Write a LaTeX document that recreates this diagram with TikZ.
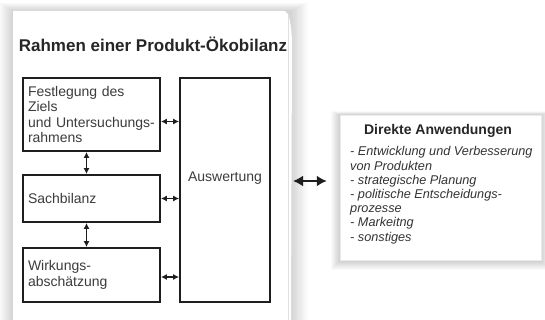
\documentclass[tikz,border=0pt]{standalone}
\usepackage{fontspec}
\setmainfont{Liberation Sans}
\usetikzlibrary{arrows.meta}
\definecolor{boxline}{HTML}{1E1E1E}
\definecolor{boxtext}{HTML}{3C3C3C}
\definecolor{listtext}{HTML}{333333}
\tikzset{
  stepbox/.style={draw=boxline, line width=1.8pt, fill=white, minimum width=137pt,
    text width=127pt, inner xsep=5pt, align=left, text=boxtext,
    font=\fontsize{14}{15.5}\selectfont},
  link/.style={{Latex[length=6pt,width=6pt]}-{Latex[length=6pt,width=6pt]},
    line width=1.5pt, draw=boxline},
  biglink/.style={{Latex[length=10pt,width=11pt]}-{Latex[length=10pt,width=11pt]},
    line width=2.6pt, draw=boxline},
}
\begin{document}
\begin{tikzpicture}[x=1pt,y=-1pt]
  \useasboundingbox[fill=white] (0,0) rectangle (545,320);
  % shadow and page
  \foreach \i in {1,...,14}
    \fill[black, opacity=0.011] (13-\i,11-0.6*\i) rectangle (291+1.2*\i,325);
  \fill[white] (13,11) -- (285,11) .. controls (289,13) and (291,22) .. (292,40)
    -- (291,325) -- (13,325) -- cycle;
  \draw[black!12, line width=0.8pt] (288,16) -- (288,325);
  \node[font=\bfseries\fontsize{17}{20}\selectfont, text=black!85] (title) at (153,44)
    {Rahmen einer Produkt-Ökobilanz};
  % phases
  \node[stepbox, minimum height=73pt] (ziel) at (91.5,114.5)
    {Festlegung des\\Ziels\\und Untersuchungs-\\rahmens};
  \node[stepbox, minimum height=47pt] (sach) at (91.5,198.5) {Sachbilanz};
  \node[stepbox, minimum height=54pt] (wirk) at (91.5,275) {Wirkungs-\\abschätzung};
  \node[draw=boxline, line width=1.8pt, fill=white, minimum width=90pt,
    minimum height=224pt] (ausw) at (225,190) {};
  \node[text=boxtext, font=\fontsize{14}{15.5}\selectfont] (auswtext) at (225,178) {Auswertung};
  \begin{scope}[link]
    \draw ([yshift=-7pt]ziel.east) -- ([yshift=-7pt]ziel.east -| ausw.west);
    \draw (sach.east) -- (sach.east -| ausw.west);
    \draw ([yshift=-2pt]wirk.east) -- ([yshift=-2pt]wirk.east -| ausw.west);
    \draw ([xshift=-5pt]ziel.south) -- ([xshift=-5pt]sach.north);
    \draw ([xshift=-5pt]sach.south) -- ([xshift=-5pt]wirk.north);
  \end{scope}
  % applications
  \foreach \i in {1,...,9}
    \fill[black, opacity=0.018] (340-\i,115-0.4*\i) rectangle (541+\i,261+\i);
  \node[fill=white, draw=black!8, line width=0.5pt, minimum width=201pt,
    minimum height=145pt] (app) at (440.5,187.5) {};
  \node[font=\bfseries\fontsize{14}{16}\selectfont, text=black!85] (apptitle) at (438,131)
    {Direkte Anwendungen};
  \node[anchor=north west, inner sep=0pt, align=left, text=listtext,
    font=\itshape\fontsize{12.7}{14.2}\selectfont] (applist) at (350,146.5)
    {- Entwicklung und Verbesserung\\von Produkten\\- strategische Planung\\
     - politische Entscheidungs-\\prozesse\\- Markeitng\\- sonstiges};
  \coordinate (frameR) at (293,181);
  \draw[biglink] (frameR) -- ([xshift=-13pt]frameR -| app.west);
\end{tikzpicture}
\end{document}
